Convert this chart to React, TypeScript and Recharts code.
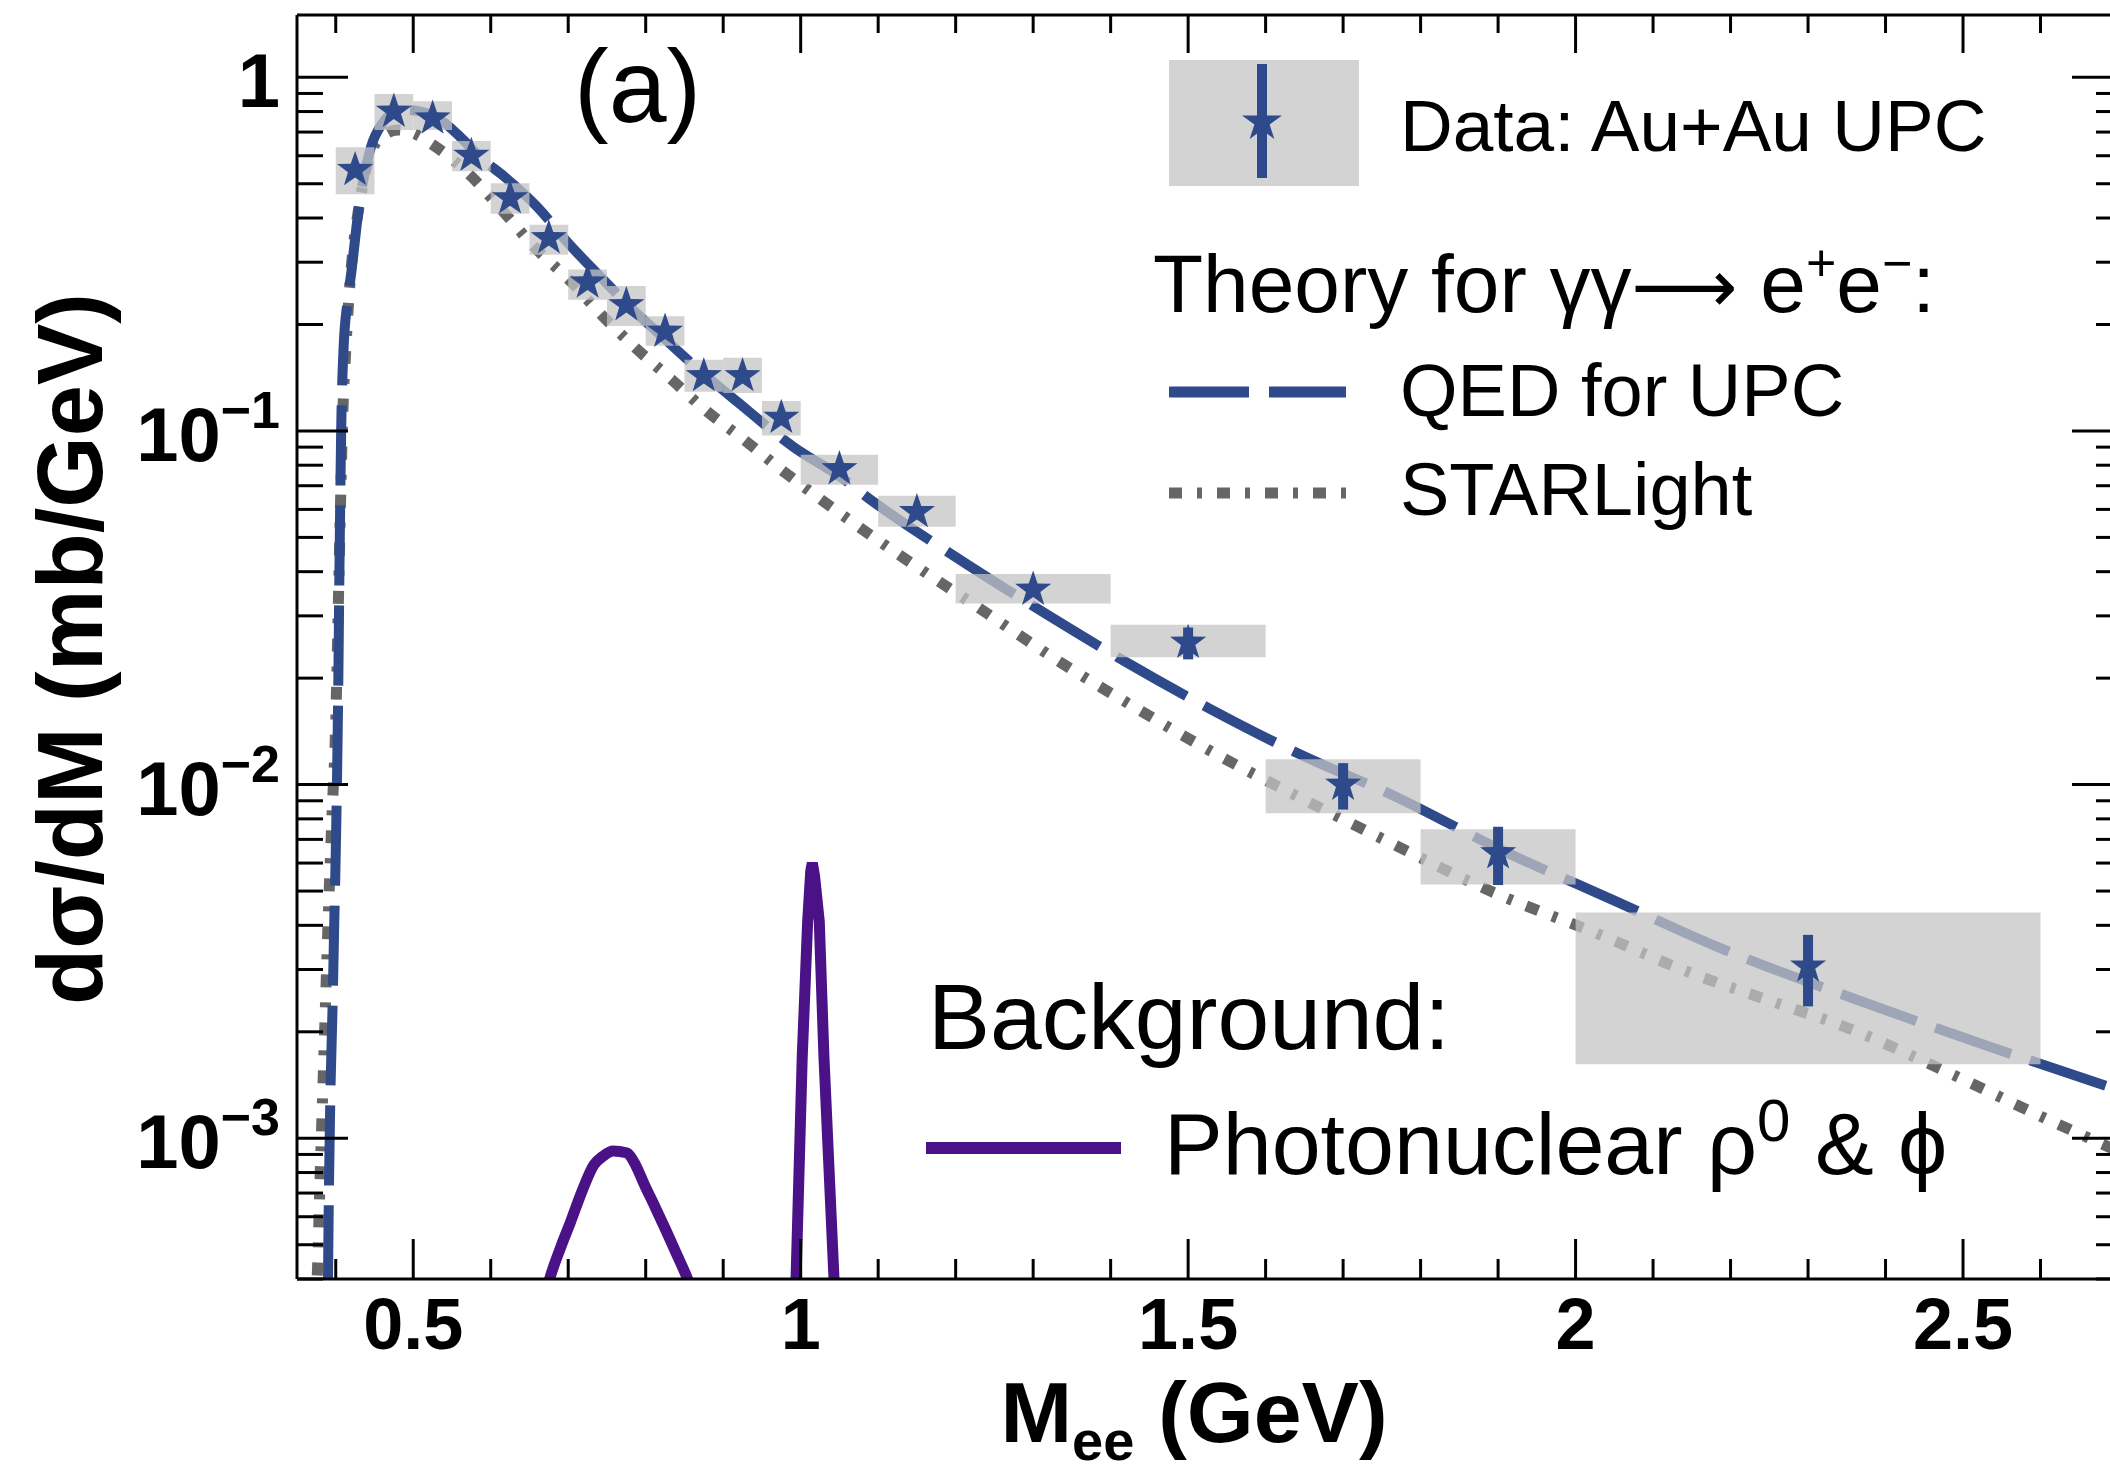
import React from "react";
import { ComposedChart, Line, Scatter, XAxis, YAxis, ReferenceArea, ErrorBar } from "recharts";

// measured cross sections, Au+Au UPC
const binLow = [0.4, 0.45, 0.5, 0.55, 0.6, 0.65, 0.7, 0.75, 0.8, 0.85, 0.9, 0.95, 1.0, 1.1, 1.2, 1.4, 1.6, 1.8, 2.0];
const binHigh = [0.45, 0.5, 0.55, 0.6, 0.65, 0.7, 0.75, 0.8, 0.85, 0.9, 0.95, 1.0, 1.1, 1.2, 1.4, 1.6, 1.8, 2.0, 2.6];
const massCenter = [0.425, 0.475, 0.525, 0.575, 0.625, 0.675, 0.725, 0.775, 0.825, 0.875, 0.925, 0.975, 1.05, 1.15, 1.3, 1.5, 1.7, 1.9, 2.3];
const xsecData = [0.547, 0.8, 0.765, 0.6, 0.455, 0.351, 0.263, 0.227, 0.191, 0.143, 0.143, 0.109, 0.078, 0.059, 0.0356, 0.0252, 0.01, 0.0064, 0.00306];
const statErr = [0.016, 0.024, 0.023, 0.018, 0.014, 0.011, 0.008, 0.007, 0.006, 0.0045, 0.0045, 0.0035, 0.0025, 0.002, 0.0013, 0.0026, 0.0015, 0.0012, 0.0007];
const sysLow = [0.467, 0.71, 0.71, 0.542, 0.411, 0.315, 0.235, 0.198, 0.174, 0.129, 0.128, 0.097, 0.0705, 0.0536, 0.0325, 0.0229, 0.0083, 0.00522, 0.00162];
const sysHigh = [0.634, 0.897, 0.855, 0.66, 0.502, 0.383, 0.286, 0.257, 0.211, 0.159, 0.161, 0.1216, 0.0857, 0.0656, 0.0394, 0.0283, 0.0118, 0.00748, 0.00435];

// QED for UPC
const qedMass = [0.388, 0.39, 0.391, 0.393, 0.396, 0.398, 0.4, 0.403, 0.405, 0.407, 0.41, 0.415, 0.42, 0.43, 0.445, 0.46, 0.485, 0.51, 0.536, 0.56, 0.588, 0.617, 0.66, 0.703, 0.74, 0.778, 0.82, 0.864, 0.92, 0.991, 1.05, 1.094, 1.2, 1.31, 1.42, 1.53, 1.64, 1.77, 1.9, 2.05, 2.18, 2.355, 2.53, 2.7];
const qedXsec = [0.0002, 0.0004, 0.00066, 0.0013, 0.0024, 0.004, 0.0064, 0.017, 0.045, 0.1, 0.17, 0.23, 0.28, 0.43, 0.63, 0.74, 0.81, 0.8, 0.755, 0.68, 0.59, 0.525, 0.43, 0.334, 0.275, 0.226, 0.186, 0.152, 0.12, 0.09, 0.0745, 0.063, 0.044, 0.031, 0.0222, 0.0163, 0.0123, 0.0092, 0.0066, 0.0047, 0.0035, 0.0025, 0.00183, 0.00137];

// STARLight
const slMass = [0.372, 0.376, 0.38, 0.385, 0.39, 0.395, 0.4, 0.403, 0.406, 0.409, 0.413, 0.42, 0.43, 0.444, 0.46, 0.48, 0.5, 0.525, 0.574, 0.611, 0.657, 0.703, 0.743, 0.784, 0.833, 0.876, 0.928, 0.974, 1.022, 1.126, 1.229, 1.332, 1.436, 1.539, 1.648, 1.758, 1.89, 2.033, 2.144, 2.255, 2.354, 2.471, 2.617, 2.7];
const slXsec = [0.0003, 0.0004, 0.0008, 0.0018, 0.004, 0.008, 0.015, 0.03, 0.06, 0.11, 0.17, 0.29, 0.43, 0.6, 0.68, 0.71, 0.695, 0.645, 0.527, 0.43, 0.33, 0.265, 0.213, 0.174, 0.14, 0.115, 0.094, 0.078, 0.065, 0.0448, 0.0317, 0.0224, 0.0163, 0.0121, 0.0091, 0.0069, 0.005, 0.00375, 0.00296, 0.00243, 0.00204, 0.00157, 0.00111, 0.00092];

// photonuclear rho0 and phi
const rhoMass = [0.665, 0.676, 0.69, 0.703, 0.718, 0.733, 0.745, 0.758, 0.775, 0.787, 0.797, 0.812, 0.826, 0.84, 0.854, 0.865];
const rhoXsec = [0.00032, 0.0004, 0.00049, 0.00058, 0.00071, 0.00084, 0.00089, 0.00092, 0.00091, 0.00084, 0.00075, 0.00064, 0.00055, 0.00047, 0.0004, 0.00034];
const phiMass = [0.99, 0.994, 1.002, 1.009, 1.013, 1.015, 1.018, 1.024, 1.03, 1.043, 1.048];
const phiXsec = [0.0003, 0.0004, 0.0017, 0.0041, 0.0057, 0.006, 0.0055, 0.0041, 0.0017, 0.0004, 0.00032];

// axes
const xTicks = [0.4, 0.5, 0.6, 0.7, 0.8, 0.9, 1.0, 1.1, 1.2, 1.3, 1.4, 1.5, 1.6, 1.7, 1.8, 1.9, 2.0, 2.1, 2.2, 2.3, 2.4, 2.5, 2.6];
const xLabelValues = [0.5, 1, 1.5, 2, 2.5];
const xLabelText = ["0.5", "1", "1.5", "2", "2.5"];
const yTicks = [0.0004, 0.0005, 0.0006, 0.0007, 0.0008, 0.0009, 0.001, 0.002, 0.003, 0.004, 0.005, 0.006, 0.007, 0.008, 0.009, 0.01, 0.02, 0.03, 0.04, 0.05, 0.06, 0.07, 0.08, 0.09, 0.1, 0.2, 0.3, 0.4, 0.5, 0.6, 0.7, 0.8, 0.9, 1];
const yLabelValues = [0.001, 0.01, 0.1, 1];
const yLabelExp = ["\u22123", "\u22122", "\u22121", ""];

const BLUE = "#2e4a8b";
const GREY = "#666666";
const PURPLE = "#4b1288";
const FONT = "'Liberation Sans', Arial, Helvetica, sans-serif";

const points = massCenter.map((x, i) => ({ x, y: xsecData[i], err: statErr[i] }));
const qed = qedMass.map((x, i) => ({ x, y: qedXsec[i] }));
const starlight = slMass.map((x, i) => ({ x, y: slXsec[i] }));
const rho = rhoMass.map((x, i) => ({ x, y: rhoXsec[i] }));
const phi = phiMass.map((x, i) => ({ x, y: phiXsec[i] }));

const near = (a: number, b: number) => Math.abs(a - b) < 1e-6;
const xLabelFor = (v: number) => {
  const i = xLabelValues.findIndex((l) => near(l, v));
  return i >= 0 ? xLabelText[i] : null;
};
const yLabelIndex = (v: number) => yLabelValues.findIndex((l) => Math.abs(l - v) / l < 1e-6);

const BottomTick = (props: any) => {
  const { x, y, payload } = props;
  const label = xLabelFor(payload.value);
  return (
    <g>
      <line x1={x} y1={y} x2={x} y2={y - (label ? 40 : 20)} stroke="#000" strokeWidth={3} />
      {label && (
        <text x={x} y={y + 70} textAnchor="middle" fontSize={72} fontWeight="bold" fontFamily={FONT} fill="#000">
          {label}
        </text>
      )}
    </g>
  );
};

const TopTick = (props: any) => {
  const { x, y, payload } = props;
  const major = xLabelFor(payload.value) !== null;
  return <line x1={x} y1={y} x2={x} y2={y + (major ? 38 : 18)} stroke="#000" strokeWidth={3} />;
};

const LeftTick = (props: any) => {
  const { x, y, payload } = props;
  const i = yLabelIndex(payload.value);
  const major = i >= 0;
  return (
    <g>
      <line x1={x} y1={y} x2={x + (major ? 51 : 26)} y2={y} stroke="#000" strokeWidth={3} />
      {major && (
        <text x={x - 17} y={y + 30} textAnchor="end" fontSize={76} fontWeight="bold" fontFamily={FONT} fill="#000">
          {yLabelExp[i] === "" ? "1" : "10"}
          {yLabelExp[i] !== "" && (
            <tspan dy={-33} fontSize={52}>
              {yLabelExp[i]}
            </tspan>
          )}
        </text>
      )}
    </g>
  );
};

const RightTick = (props: any) => {
  const { x, y, payload } = props;
  const major = yLabelIndex(payload.value) >= 0;
  return <line x1={x} y1={y} x2={x - (major ? 46 : 22)} y2={y} stroke="#000" strokeWidth={3} />;
};

const starPoints = (cx: number, cy: number, ro: number, ri: number) => {
  const pts: string[] = [];
  for (let k = 0; k < 10; k++) {
    const r = k % 2 === 0 ? ro : ri;
    const a = -Math.PI / 2 + (k * Math.PI) / 5;
    pts.push(`${cx + r * Math.cos(a)},${cy + r * Math.sin(a)}`);
  }
  return pts.join(" ");
};

const StarShape = (props: any) => {
  const { cx, cy } = props;
  if (cx == null || cy == null) return <g />;
  return <polygon points={starPoints(cx, cy, 19, 7.5)} fill={BLUE} />;
};

export default function App() {
  return (
    <div style={{ position: "absolute", left: 0, top: 0, width: 2110, height: 1476, overflow: "hidden", background: "#fff" }}>
      <ComposedChart width={2130} height={1476} margin={{ top: 14, right: 11, bottom: 196, left: 296 }}>
        <XAxis
          type="number"
          dataKey="x"
          domain={[0.35, 2.7]}
          allowDataOverflow
          ticks={xTicks}
          interval={0}
          tick={BottomTick}
          tickLine={false}
          tickSize={0}
          tickMargin={0}
          height={1}
          axisLine={{ stroke: "#000", strokeWidth: 3 }}
        />
        <XAxis
          xAxisId="top"
          orientation="top"
          type="number"
          dataKey="x"
          domain={[0.35, 2.7]}
          allowDataOverflow
          ticks={xTicks}
          interval={0}
          tick={TopTick}
          tickLine={false}
          tickSize={0}
          tickMargin={0}
          height={1}
          axisLine={{ stroke: "#000", strokeWidth: 3 }}
        />
        <YAxis
          type="number"
          dataKey="y"
          scale="log"
          domain={[0.0004, 1.5]}
          allowDataOverflow
          ticks={yTicks}
          interval={0}
          tick={LeftTick}
          tickLine={false}
          tickSize={0}
          tickMargin={0}
          width={1}
          axisLine={{ stroke: "#000", strokeWidth: 3 }}
        />
        <YAxis
          yAxisId="right"
          orientation="right"
          type="number"
          dataKey="y"
          scale="log"
          domain={[0.0004, 1.5]}
          allowDataOverflow
          ticks={yTicks}
          interval={0}
          tick={RightTick}
          tickLine={false}
          tickSize={0}
          tickMargin={0}
          width={1}
          axisLine={{ stroke: "#000", strokeWidth: 3 }}
        />

        <Line data={rho} dataKey="y" type="monotone" stroke={PURPLE} strokeWidth={11} dot={false} activeDot={false} isAnimationActive={false} />
        <Line data={phi} dataKey="y" type="linear" stroke={PURPLE} strokeWidth={11} dot={false} activeDot={false} isAnimationActive={false} />
        <Line data={starlight} dataKey="y" type="monotone" stroke={GREY} strokeWidth={11} strokeDasharray="13 15 5 15" dot={false} activeDot={false} isAnimationActive={false} />
        <Line data={qed} dataKey="y" type="monotone" stroke={BLUE} strokeWidth={10} strokeDasharray="80 20" dot={false} activeDot={false} isAnimationActive={false} />

        {binLow.map((lo, i) => (
          <ReferenceArea
            key={i}
            x1={lo}
            x2={binHigh[i]}
            y1={sysLow[i]}
            y2={sysHigh[i]}
            fill="#c4c4c4"
            fillOpacity={0.75}
            stroke="none"
            ifOverflow="visible"
            zIndex={450}
          />
        ))}

        <Scatter data={points} dataKey="y" shape={StarShape} fill={BLUE} isAnimationActive={false} zIndex={700}>
          <ErrorBar dataKey="err" direction="y" width={0} stroke={BLUE} strokeWidth={10} zIndex={650} />
        </Scatter>
      </ComposedChart>

      <svg width={2110} height={1476} style={{ position: "absolute", left: 0, top: 0, pointerEvents: "none" }} fontFamily={FONT}>
        <text x={574} y={122} fontSize={104} fill="#000">(a)</text>

        <rect x={1169} y={60} width={190} height={126} fill="#d3d3d3" />
        <line x1={1262} y1={64} x2={1262} y2={178} stroke={BLUE} strokeWidth={10} />
        <polygon points={starPoints(1262, 122, 21, 8)} fill={BLUE} />
        <text x={1400} y={151} fontSize={73} fill="#000">Data: Au+Au UPC</text>

        <text x={1153} y={312} fontSize={82} fill="#000">
          Theory for γγ<tspan fontFamily="'DejaVu Sans', sans-serif" fontSize={74}>⟶</tspan> e<tspan dy={-31} fontSize={52}>+</tspan>
          <tspan dy={31}>e</tspan>
          <tspan dy={-31} fontSize={52}>−</tspan>
          <tspan dy={31}>:</tspan>
        </text>
        <line x1={1169} y1={392} x2={1346} y2={392} stroke={BLUE} strokeWidth={11} strokeDasharray="80 20" />
        <text x={1400} y={416} fontSize={74} fill="#000">QED for UPC</text>
        <line x1={1169} y1={493} x2={1346} y2={493} stroke={GREY} strokeWidth={11} strokeDasharray="13 15 5 15" />
        <text x={1400} y={515} fontSize={74} fill="#000">STARLight</text>

        <text x={928} y={1049} fontSize={93} fill="#000">Background:</text>
        <line x1={926} y1={1148} x2={1121} y2={1148} stroke={PURPLE} strokeWidth={12} />
        <text x={1164} y={1174} fontSize={88} fill="#000">
          Photonuclear ρ<tspan dy={-33} fontSize={60}>0</tspan>
          <tspan dy={33}> &amp; ϕ</tspan>
        </text>

        <text x={1194} y={1442} textAnchor="middle" fontSize={86} fontWeight="bold" fill="#000">
          M<tspan dy={18} fontSize={56}>ee</tspan>
          <tspan dy={-18}> (GeV)</tspan>
        </text>
        <text x={102} y={649} transform="rotate(-90 102 649)" textAnchor="middle" fontSize={92} fontWeight="bold" fill="#000">
          dσ/dM (mb/GeV)
        </text>
      </svg>
    </div>
  );
}
